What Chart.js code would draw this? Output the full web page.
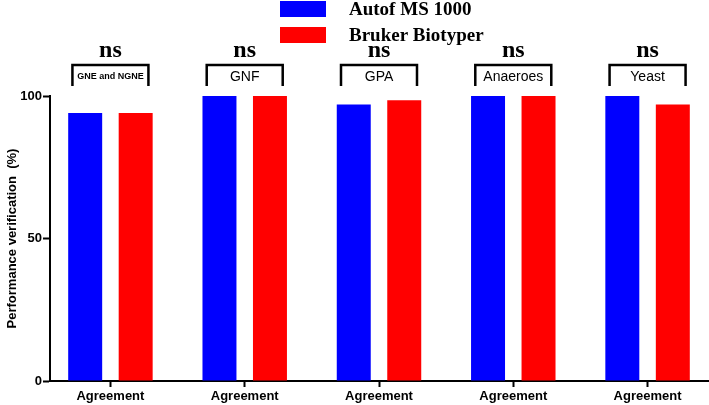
<!DOCTYPE html>
<html lang="en">
<head>
  <meta charset="UTF-8">
  <title>Performance verification</title>
  <script src="https://cdn.jsdelivr.net/npm/chart.js"></script>
  <style>
    body {
      margin: 0;
      background: #fff;
    }
    #wrap {
      width: 709px;
      height: 405px;
    }
  </style>
</head>
<body>
  <div id="wrap"><canvas id="perfChart"></canvas></div>

  <script>
    // values
    const xLabels = ['Agreement', 'Agreement', 'Agreement', 'Agreement', 'Agreement'];
    const groups = ['GNE and NGNE', 'GNF', 'GPA', 'Anaeroes', 'Yeast'];
    const autofValues = [94, 100, 97, 100, 100];
    const brukerValues = [94, 100, 98.5, 100, 97];
    const signif = ['ns', 'ns', 'ns', 'ns', 'ns'];
    const yTicks = [0, 50, 100];

    const sans = '"Liberation Sans", Arial, sans-serif';
    const serif = '"Liberation Serif", "Times New Roman", serif';
    const groupFonts = ['bold 9px ' + sans, '14px ' + sans, '14px ' + sans, '14px ' + sans, '14px ' + sans];

    // legend drawn as two stacked rows at the top
    const stackedLegend = {
      id: 'stackedLegend',
      afterDraw(chart) {
        const c = chart.ctx;
        c.save();
        chart.data.datasets.forEach((ds, i) => {
          const y = 1 + i * 26;
          c.fillStyle = ds.backgroundColor;
          c.fillRect(280, y, 46, 16);
          c.fillStyle = '#000';
          c.font = 'bold 19px ' + serif;
          c.textAlign = 'left';
          c.textBaseline = 'middle';
          c.fillText(ds.label, 349, y + 9);
        });
        c.restore();
      }
    };

    // "ns" marks and the labelled brackets above each pair
    const brackets = {
      id: 'brackets',
      afterDraw(chart) {
        const c = chart.ctx;
        const x = chart.scales.x;
        const top = chart.chartArea.top - 31;
        c.save();
        groups.forEach((g, i) => {
          const cx = x.getPixelForValue(i);
          c.strokeStyle = '#000';
          c.lineWidth = 2.5;
          c.beginPath();
          c.moveTo(cx - 38, top + 21);
          c.lineTo(cx - 38, top);
          c.lineTo(cx + 38, top);
          c.lineTo(cx + 38, top + 21);
          c.stroke();

          c.fillStyle = '#000';
          c.textAlign = 'center';
          c.textBaseline = 'middle';
          c.font = groupFonts[i];
          c.fillText(g, cx, top + 12);

          c.font = 'bold 24px ' + serif;
          c.textBaseline = 'alphabetic';
          c.fillText(signif[i], cx, top - 8);
        });
        c.restore();
      }
    };

    const ctx = document.getElementById('perfChart').getContext('2d');
    const chart = new Chart(ctx, {
      type: 'bar',
      data: {
        datasets: [
          {
            label: 'Autof MS 1000',
            data: autofValues.map((v, i) => ({ x: i, y: v })),
            backgroundColor: '#0000ff'
          },
          {
            label: 'Bruker Biotyper',
            data: brukerValues.map((v, i) => ({ x: i, y: v })),
            backgroundColor: '#ff0000'
          }
        ]
      },
      options: {
        responsive: true,
        maintainAspectRatio: false,
        animation: false,
        categoryPercentage: 0.752,
        barPercentage: 0.673,
        layout: { padding: { top: 96, right: 1, left: 0, bottom: 0 } },
        plugins: {
          legend: { display: false },
          tooltip: { enabled: false }
        },
        scales: {
          x: {
            type: 'linear',
            min: -0.45,
            max: 4.45,
            offset: false,
            afterBuildTicks(scale) {
              scale.ticks = xLabels.map((l, i) => ({ value: i }));
            },
            afterFit(scale) { scale.height = 24; },
            ticks: {
              callback: (v, i) => xLabels[i],
              color: '#000',
              font: { family: sans, size: 13, weight: 'bold' },
              padding: 2,
              maxRotation: 0,
              autoSkip: false
            },
            grid: {
              offset: false,
              drawOnChartArea: false,
              tickLength: 6,
              tickWidth: 2,
              tickColor: '#000'
            },
            border: { color: '#000', width: 2 }
          },
          y: {
            min: 0,
            max: 100,
            afterBuildTicks(scale) {
              scale.ticks = yTicks.map(v => ({ value: v }));
            },
            afterFit(scale) { scale.width = 50; },
            ticks: {
              color: '#000',
              font: { family: sans, size: 13, weight: 'bold' },
              padding: 1
            },
            grid: {
              drawOnChartArea: false,
              tickLength: 7,
              tickWidth: 2,
              tickColor: '#000'
            },
            border: { color: '#000', width: 2 },
            title: {
              display: true,
              text: 'Performance verification  (%)',
              color: '#000',
              font: { family: sans, size: 13, weight: 'bold' },
              padding: { top: 5, bottom: 0 }
            }
          }
        }
      },
      plugins: [stackedLegend, brackets]
    });
  </script>
</body>
</html>
